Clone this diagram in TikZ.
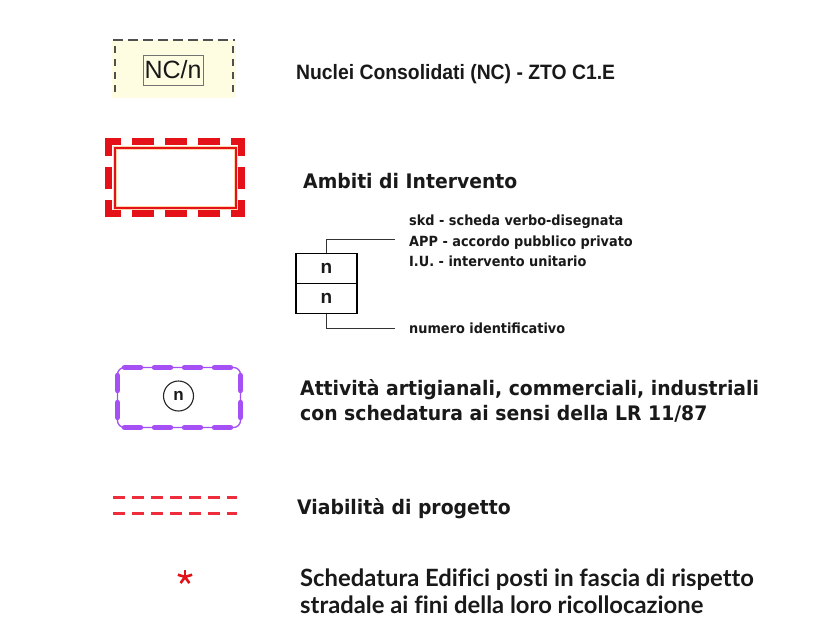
\documentclass[tikz,border=0pt]{standalone}
\usepackage{fontspec}
\setmainfont{Liberation Sans}
\newfontfamily\arn[FakeStretch=0.93]{Liberation Sans}
\newfontfamily\dvs[FakeStretch=0.94]{DejaVu Sans}
\newfontfamily\dvss[FakeStretch=0.92]{DejaVu Sans}
\newfontfamily\latof[Ligatures=NoCommon]{Lato}
\definecolor{ncfill}{RGB}{255,253,225}
\definecolor{ncgray}{RGB}{80,80,80}
\definecolor{ambred}{RGB}{228,18,24}
\definecolor{halo}{RGB}{255,214,170}
\definecolor{purp}{RGB}{165,80,245}
\definecolor{viared}{RGB}{238,45,60}
\definecolor{txt}{RGB}{25,25,25}
\tikzset{
  lblar/.style={anchor=base west, inner sep=0, text=txt, font=\arn\bfseries\fontsize{20.8}{25}\selectfont},
  lbldv/.style={anchor=base west, inner sep=0, text=txt, font=\dvs\bfseries\fontsize{20}{24}\selectfont},
  lblla/.style={anchor=base west, inner sep=0, text=txt, font=\latof\bfseries\fontsize{23.8}{27}\selectfont},
  smalltxt/.style={anchor=base west, inner sep=0, text=txt, font=\dvss\bfseries\fontsize{14}{16}\selectfont},
  numbox/.style={draw=black, line width=1.1pt, minimum width=61pt, minimum height=30pt, inner sep=0pt, text=txt, font=\bfseries\fontsize{19}{22}\selectfont},
  leader/.style={draw=black!80, line width=0.8pt},
  ncdash/.style={draw=ncgray, line width=1.8pt, dash pattern=on 10pt off 5pt},
  ncdashv/.style={draw=ncgray, line width=1.8pt, dash pattern=on 7pt off 6pt},
  ambdash/.style={draw=ambred, line width=7pt, dash pattern=on 22pt off 11pt},
  purpdash/.style={draw=purp, line width=5.5pt, line cap=round},
  viadash/.style={draw=viared, line width=3pt, dash pattern=on 12pt off 7pt}
}
\begin{document}
\begin{tikzpicture}[x=1pt,y=-1pt]
\useasboundingbox[fill=white] (0,0) rectangle (813,637);

% --- Nuclei Consolidati
\fill[ncfill] (112,40) rectangle (236,98);
\draw[ncdash] (113,40) -- (235,40);
\draw[ncdashv] (115,46) -- (115,96);
\draw[ncdashv] (233,46) -- (233,96);
\node[draw=ncgray!80, line width=0.8pt, minimum width=60pt, minimum height=30pt, inner sep=0pt,
      text=txt, font=\fontsize{25}{27}\selectfont] (ncn) at (173,70) {NC/n};
\node[lblar] (t1) at (296,79) {Nuclei Consolidati (NC) - ZTO C1.E};

% --- Ambiti di Intervento
\draw[ambdash, dash phase=6pt] (105,141.5) -- (245,141.5);
\draw[ambdash, dash phase=6pt] (105,213.5) -- (245,213.5);
\draw[ambdash, dash phase=4pt] (108.5,138) -- (108.5,217);
\draw[ambdash, dash phase=4pt] (241.5,138) -- (241.5,217);
\draw[halo, line width=3.5pt] (115,148) rectangle (236,208);
\draw[ambred, line width=1.5pt] (115,148) rectangle (236,208);
\node[lbldv] (t2) at (303,188) {Ambiti di Intervento};

% --- stacked boxes
\node[numbox] (nt) at (326.5,268.5) {n};
\node[numbox] (nb) at (326.5,298.5) {n};
\coordinate (tl) at (395,239);
\coordinate (bl) at (395,328);
\draw[leader] (nt.north) |- (tl);
\draw[leader] (nb.south) |- (bl);
\node[smalltxt] (s1) at (409,225) {skd - scheda verbo-disegnata};
\node[smalltxt] (s2) at (409,246) {APP - accordo pubblico privato};
\node[smalltxt] (s3) at (409,266) {I.U. - intervento unitario};
\node[smalltxt] (s4) at (409,333) {numero identificativo};

% --- Attivita
\draw[purp, line width=1.3pt, rounded corners=7pt] (117.5,367.5) rectangle (240.5,427.5);
\draw[purpdash, dash pattern=on 16pt off 14pt] (124.5,367.5) -- (232,367.5);
\draw[purpdash, dash pattern=on 16pt off 14pt] (124.5,427.5) -- (232,427.5);
\draw[purpdash, dash pattern=on 15pt off 12pt] (117.5,375.5) -- (117.5,419);
\draw[purpdash, dash pattern=on 15pt off 12pt] (240.5,375.5) -- (240.5,419);
\node[circle, draw=black!85, line width=1.1pt, minimum size=30pt, inner sep=0pt, text=txt,
      font=\bfseries\fontsize{17}{19}\selectfont] (cn) at (178.5,396) {n};
\node[lbldv] (t3a) at (300,395) {Attività artigianali, commerciali, industriali};
\node[lbldv] (t3b) at (300,420) {con schedatura ai sensi della LR 11/87};

% --- Viabilita
\draw[viadash] (113,497) -- (237,497);
\draw[viadash] (113,513) -- (237,513);
\node[lbldv] (t4) at (297,514) {Viabilità di progetto};

% --- asterisk
\coordinate (ast) at (185,577);
\foreach \a in {-90,-18,54,126,198}
  \draw[ambred, line width=2.6pt] (ast) -- +(\a:7.5);
\node[lblla] (t5a) at (300,586) {Schedatura Edifici posti in fascia di rispetto};
\node[lblla] (t5b) at (300,613) {stradale ai fini della loro ricollocazione};
\end{tikzpicture}
\end{document}
